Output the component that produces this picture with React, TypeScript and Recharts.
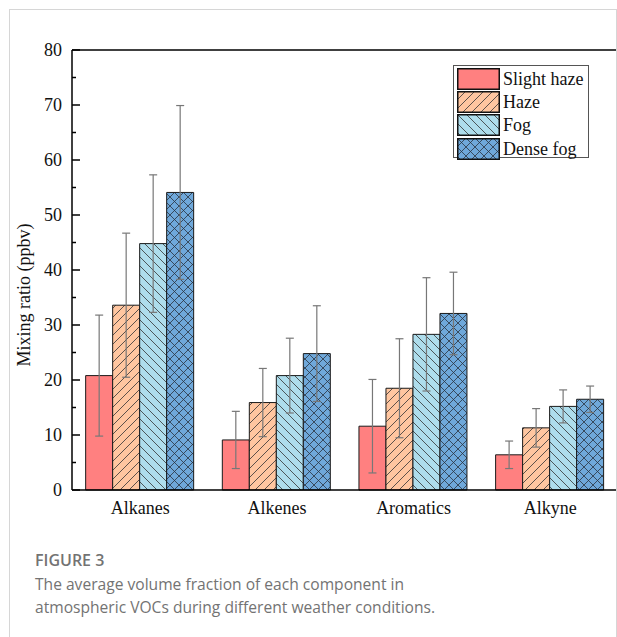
import React from 'react';
import { BarChart, Bar, XAxis, YAxis, ErrorBar, ReferenceLine, Legend } from 'recharts';

// VOC groups and mean mixing ratios (ppbv) per weather condition
const categories = ['Alkanes', 'Alkenes', 'Aromatics', 'Alkyne'];
const slightHaze = [20.8, 9.1, 11.6, 6.4];
const haze = [33.6, 15.9, 18.5, 11.3];
const fog = [44.8, 20.8, 28.3, 15.2];
const denseFog = [54.1, 24.8, 32.1, 16.5];

// standard deviations, drawn as symmetric error bars
const slightHazeErr = [11.0, 5.2, 8.5, 2.5];
const hazeErr = [13.1, 6.2, 9.0, 3.5];
const fogErr = [12.5, 6.8, 10.3, 3.0];
const denseFogErr = [15.8, 8.7, 7.5, 2.4];

const yTicks = [0, 5, 10, 15, 20, 25, 30, 35, 40, 45, 50, 55, 60, 65, 70, 75, 80];

const series = [
  { key: 'slightHaze', name: 'Slight haze', fill: '#FF8080' },
  { key: 'haze', name: 'Haze', fill: 'url(#hatchHaze)' },
  { key: 'fog', name: 'Fog', fill: 'url(#hatchFog)' },
  { key: 'denseFog', name: 'Dense fog', fill: 'url(#hatchDense)' },
];

const data = categories.map((name, i) => ({
  name,
  slightHaze: slightHaze[i],
  haze: haze[i],
  fog: fog[i],
  denseFog: denseFog[i],
  slightHazeErr: slightHazeErr[i],
  hazeErr: hazeErr[i],
  fogErr: fogErr[i],
  denseFogErr: denseFogErr[i],
}));

const SERIF = '"Liberation Serif", "Times New Roman", serif';
const AXIS_X = 64;

const YTick = ({ y, payload }: any) => {
  const major = payload.value % 10 === 0;
  return (
    <g>
      <line x1={AXIS_X} x2={AXIS_X + (major ? 8 : 4)} y1={y} y2={y} stroke="#000" strokeWidth={1.5} />
      {major && (
        <text x={AXIS_X - 10} y={y} dy="0.35em" textAnchor="end" fontFamily={SERIF} fontSize={18} fill="#111">
          {payload.value}
        </text>
      )}
    </g>
  );
};

const LegendBox = () => (
  <div
    style={{
      width: 136,
      height: 93,
      boxSizing: 'border-box',
      border: '1px solid #555',
      background: '#fff',
      padding: '1px 0 0 3px',
      fontFamily: SERIF,
      fontSize: 18,
      color: '#111',
    }}
  >
    {series.map((s) => (
      <div key={s.key} style={{ display: 'flex', alignItems: 'center', height: 23.3 }}>
        <svg width={43} height={22} style={{ display: 'block' }}>
          <rect x={0.75} y={0.75} width={41.5} height={20.5} fill={s.fill} stroke="#111" strokeWidth={1.5} />
        </svg>
        <span style={{ marginLeft: 3, lineHeight: '22px' }}>{s.name}</span>
      </div>
    ))}
  </div>
);

export default function App() {
  return (
    <div style={{ position: 'fixed', left: 0, top: 0, width: 617, height: 637, overflow: 'hidden', background: '#fff' }}>
      <div style={{ position: 'absolute', left: 8, top: 8 }}>
        <BarChart
          width={640}
          height={540}
          data={data}
          margin={{ top: 42, right: 29.4, left: 0, bottom: 18 }}
          barCategoryGap="10%"
          barGap={0}
        >
          <defs>
            <pattern id="hatchHaze" width={9} height={9} patternUnits="userSpaceOnUse">
              <rect width={9} height={9} fill="#FFC6A0" />
              <path d="M-1,1 l2,-2 M0,9 l9,-9 M8,10 l2,-2" stroke="#333" strokeWidth={0.8} />
            </pattern>
            <pattern id="hatchFog" width={9} height={9} patternUnits="userSpaceOnUse">
              <rect width={9} height={9} fill="#AEDDEC" />
              <path d="M-1,8 l2,2 M0,0 l9,9 M8,-1 l2,2" stroke="#333" strokeWidth={0.8} />
            </pattern>
            <pattern id="hatchDense" width={9} height={9} patternUnits="userSpaceOnUse">
              <rect width={9} height={9} fill="#6FA8DA" />
              <path
                d="M-1,1 l2,-2 M0,9 l9,-9 M8,10 l2,-2 M-1,8 l2,2 M0,0 l9,9 M8,-1 l2,2"
                stroke="#2a3340"
                strokeWidth={0.8}
              />
            </pattern>
          </defs>
          <XAxis
            dataKey="name"
            height={40}
            tickLine={false}
            tickSize={0}
            tickMargin={11}
            axisLine={{ stroke: '#000', strokeWidth: 1.5 }}
            tick={{ fontFamily: SERIF, fontSize: 18, fill: '#111' }}
          />
          <YAxis
            width={64}
            domain={[0, 80]}
            ticks={yTicks}
            interval={0}
            tickLine={false}
            axisLine={{ stroke: '#000', strokeWidth: 1.5 }}
            tick={<YTick />}
            label={{
              content: () => (
                <text
                  transform="translate(16,287) rotate(-90)"
                  textAnchor="middle"
                  dy="0.35em"
                  fontFamily={SERIF}
                  fontSize={18}
                  fill="#111"
                >
                  Mixing ratio (ppbv)
                </text>
              ),
            }}
          />
          <ReferenceLine y={80} stroke="#000" strokeWidth={1.5} />
          {series.map((s) => (
            <Bar
              key={s.key}
              dataKey={s.key}
              name={s.name}
              fill={s.fill}
              stroke="#1a1a1a"
              strokeWidth={1}
              isAnimationActive={false}
            >
              <ErrorBar dataKey={`${s.key}Err`} width={4} stroke="#777" strokeWidth={1.2} direction="y" />
            </Bar>
          ))}
          <Legend
            layout="vertical"
            align="center"
            verticalAlign="middle"
            content={<LegendBox />}
            wrapperStyle={{ left: 445, top: 57, width: 136, height: 93 }}
          />
        </BarChart>
      </div>
      {/* light page frame around the figure */}
      <div
        style={{
          position: 'absolute',
          left: 9,
          top: 9,
          width: 608,
          height: 700,
          boxSizing: 'border-box',
          border: '1px solid #d6d6d6',
          borderBottom: 'none',
          pointerEvents: 'none',
        }}
      />
      <div
        style={{
          position: 'absolute',
          left: 35,
          top: 549,
          fontFamily: '"Open Sans", sans-serif',
          fontSize: 16,
          fontWeight: 600,
          color: '#737373',
          lineHeight: '22px',
        }}
      >
        FIGURE 3
      </div>
      <div
        style={{
          position: 'absolute',
          left: 35,
          top: 573,
          fontFamily: '"Open Sans", sans-serif',
          fontSize: 15.6,
          color: '#737373',
          lineHeight: '23px',
          whiteSpace: 'nowrap',
        }}
      >
        The average volume fraction of each component in
        <br />
        atmospheric VOCs during different weather conditions.
      </div>
    </div>
  );
}
